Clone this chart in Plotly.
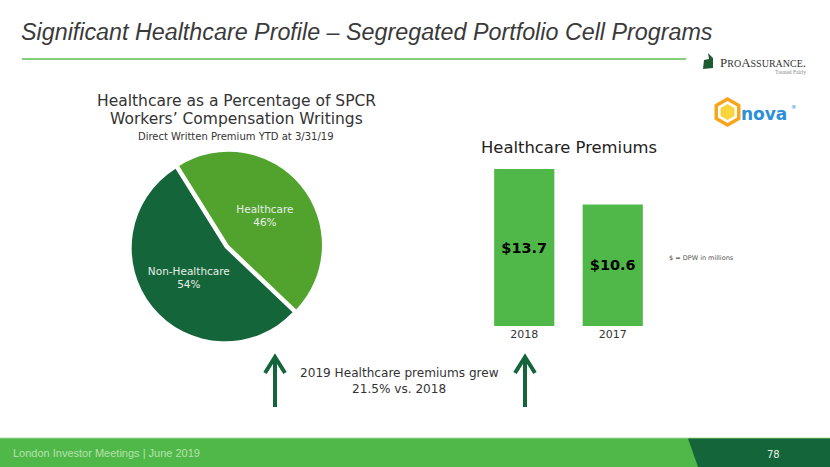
import plotly.graph_objects as go
import math

W, H = 830, 467

def px(x):
    return x / W

def py(y):
    return 1 - y / H

# Data
pie_labels = ["Healthcare", "Non-Healthcare"]
pie_values = [46, 54]
bar_years = ["2018", "2017"]
bar_values = [13.7, 10.6]

DARK = "#15653a"
MID = "#52a22e"
LIGHT = "#50b848"

fig = go.Figure()

fig.add_trace(go.Pie(
    labels=pie_labels, values=pie_values, sort=False, direction="clockwise",
    rotation=-32, pull=[0.05, 0],
    marker=dict(colors=[MID, DARK], line=dict(color="white", width=0)),
    texttemplate="%{label}<br>%{value}%", textposition="inside",
    insidetextorientation="horizontal",
    textfont=dict(family="DejaVu Sans", size=10.5, color="#e6efe6"),
    domain=dict(x=[px(127), px(323)], y=[py(346), py(150)]),
    showlegend=False, hoverinfo="label+percent",
))

fig.add_trace(go.Bar(
    x=bar_years, y=bar_values, marker=dict(color=LIGHT, line=dict(width=0)),
    width=0.68, texttemplate="$%{y:.1f}", textposition="inside",
    insidetextanchor="middle",
    textfont=dict(family="DejaVu Sans", size=14.5, color="black", weight="bold"),
    showlegend=False, xaxis="x", yaxis="y",
))

fig.update_layout(
    width=W, height=H, margin=dict(l=0, r=0, t=0, b=0),
    paper_bgcolor="white", plot_bgcolor="white",
    xaxis=dict(domain=[px(480), px(657)], range=[-0.5, 1.5], showgrid=False,
               showline=False, zeroline=False, ticks="",
               tickfont=dict(family="DejaVu Sans", size=11, color="#333")),
    yaxis=dict(domain=[py(326), py(169)], range=[0, 13.7], visible=False),
    font=dict(family="DejaVu Sans"),
)

shapes = []
# title underline
shapes.append(dict(type="line", xref="paper", yref="paper", x0=px(22), x1=px(686),
                   y0=py(59), y1=py(59), line=dict(color="#5cbf4f", width=1.5)))
# footer band
shapes.append(dict(type="rect", xref="paper", yref="paper", x0=0, x1=1,
                   y0=0, y1=py(438), line=dict(width=0), fillcolor=LIGHT, layer="below"))
shapes.append(dict(type="line", xref="paper", yref="paper", x0=0, x1=1,
                   y0=py(438), y1=py(438), line=dict(color="#a9dca3", width=1)))
shapes.append(dict(type="path", xref="paper", yref="paper",
                   path=f"M {px(688)} {py(438.5)} L 1 {py(438.5)} L 1 0 L {px(698)} 0 Z",
                   line=dict(width=0), fillcolor=DARK))
# ProAssurance leaf logo
shapes.append(dict(type="path", xref="paper", yref="paper",
                   path=(f"M {px(708)} {py(53)} L {px(713)} {py(58)} L {px(713)} {py(68)} "
                         f"L {px(703)} {py(69)} L {px(704)} {py(60)} L {px(709)} {py(59)} Z"),
                   line=dict(width=0), fillcolor="#1e5a30"))
# Inova hexagon
def hexpath(cx, cy, r):
    pts = []
    for i in range(6):
        a = math.radians(60 * i + 30)
        pts.append((px(cx + r * math.cos(a)), py(cy + r * math.sin(a))))
    return "M " + " L ".join(f"{a} {b}" for a, b in pts) + " Z"
shapes.append(dict(type="path", xref="paper", yref="paper", path=hexpath(727.5, 112, 15),
                   line=dict(width=0), fillcolor="#f7a51c"))
shapes.append(dict(type="path", xref="paper", yref="paper", path=hexpath(727.5, 112, 11),
                   line=dict(width=0), fillcolor="white"))
shapes.append(dict(type="path", xref="paper", yref="paper", path=hexpath(727.5, 112, 8),
                   line=dict(width=0), fillcolor="#f9d43a"))
# arrows (chevron heads + shafts)
for xa in [275, 525]:
    shapes.append(dict(type="line", xref="paper", yref="paper", x0=px(xa), x1=px(xa),
                       y0=py(407), y1=py(358), line=dict(color=DARK, width=4)))
    shapes.append(dict(type="path", xref="paper", yref="paper",
                       path=f"M {px(xa-10)} {py(373)} L {px(xa)} {py(357)} L {px(xa+10)} {py(373)}",
                       line=dict(color=DARK, width=4)))
fig.update_layout(shapes=shapes)

ann = []
def text(x, y, s, size, color="#333", xanchor="left", family="DejaVu Sans", **kw):
    ann.append(dict(x=px(x), y=py(y), xref="paper", yref="paper", text=s, showarrow=False,
                    xanchor=xanchor, yanchor="middle",
                    font=dict(family=family, size=size, color=color), **kw))

text(19, 32, "<i>Significant Healthcare Profile – Segregated Portfolio Cell Programs</i>", 23.3,
     color="#3a3a3a", family="Liberation Sans")
text(236, 101, "Healthcare as a Percentage of SPCR", 15.5, xanchor="center")
text(236, 119, "Workers’ Compensation Writings", 15.5, xanchor="center")
text(236, 136, "Direct Written Premium YTD at 3/31/19", 10, xanchor="center")
text(479, 148, "Healthcare Premiums", 16.4, color="#222")
text(667, 258, "$ = DPW in millions", 6.5, color="#555")
text(399, 373, "2019 Healthcare premiums grew", 12.1, xanchor="center")
text(399, 389, "21.5% vs. 2018", 12.1, xanchor="center")
text(11, 453, "London Investor Meetings | June 2019", 11, color="#b5e3ad",
     family="Liberation Sans")
text(773, 454, "78", 10, color="#e8f3e8", xanchor="center")
text(718, 62, "P<span style='font-size:10px'>RO</span>A<span style='font-size:10px'>SSURANCE</span>.", 13,
     color="#333", family="Liberation Serif")
text(790, 72, "Treated Fairly", 5.5, color="#888", xanchor="center", family="Liberation Serif")
text(739, 114, "<b>nova</b>", 17, color="#2a8fd8", family="DejaVu Sans")
text(789, 107, "®", 5.5, color="#2a8fd8", xanchor="left")

fig.update_layout(annotations=ann)
fig.write_html("out.html", config={"displayModeBar": False},
               post_script="document.body.style.margin='0';")
